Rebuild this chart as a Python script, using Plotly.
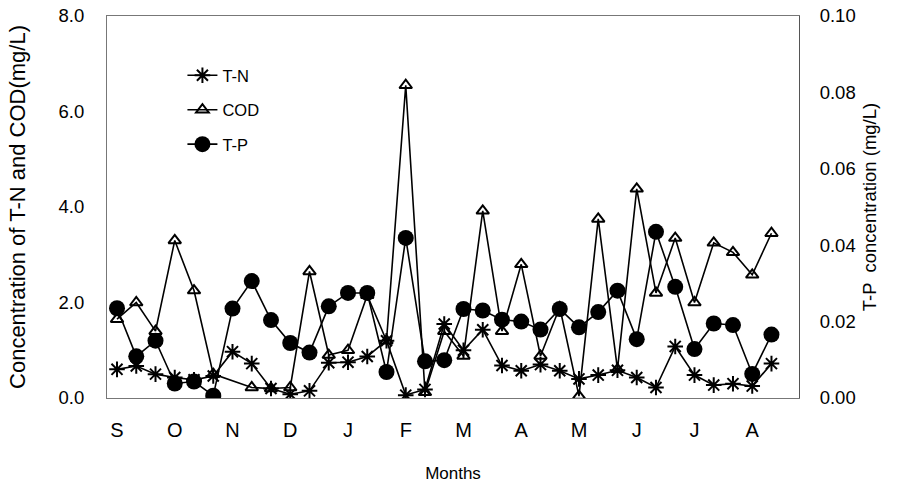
import plotly.graph_objects as go

months = ["S", "O", "N", "D", "J", "F", "M", "A", "M", "J", "J", "A"]
samples = list(range(35))

tn = [0.6, 0.67, 0.5, 0.43, 0.38, 0.46, 0.97, 0.72, 0.2, 0.08,
      0.15, 0.74, 0.75, 0.87, 1.2, 0.06, 0.18, 1.55, 1.0, 1.43,
      0.68, 0.57, 0.7, 0.57, 0.4, 0.48, 0.58, 0.43, 0.22, 1.08,
      0.48, 0.27, 0.3, 0.25, 0.72]

cod = [1.65, 2.0, 1.4, 3.3, 2.25, 0.5, None, 0.22, 0.2, 0.22,
       2.65, 0.9, 1.0, 2.15, 1.2, 6.55, 0.12, 1.4, 0.88, 3.92,
       1.4, 2.8, 0.88, 1.9, 0.04, 3.75, 0.6, 4.38, 2.2, 3.35,
       2.0, 3.25, 3.05, 2.58, 3.45]

tp = [0.0235, 0.0109, 0.015, 0.0038, 0.0043, 0.0006, 0.0234, 0.0306, 0.0204, 0.0144,
      0.0119, 0.024, 0.0275, 0.0275, 0.0068, 0.0419, 0.0096, 0.0099, 0.0233, 0.0229,
      0.0205, 0.02, 0.0179, 0.0233, 0.0185, 0.0225, 0.0281, 0.0154, 0.0435, 0.0291,
      0.0128, 0.0195, 0.0191, 0.0063, 0.0166]

month_pos = [i * 3 for i in range(len(months))]

FONT = "Liberation Sans, Arial, sans-serif"
TICK = dict(family=FONT, size=18.5, color="black")

fig = go.Figure()
fig.add_trace(go.Scatter(
    x=samples, y=tn, name="T-N", mode="lines+markers", legendgroup="a",
    line=dict(color="black", width=1.6),
    marker=dict(symbol="asterisk-open", size=13, color="black",
                line=dict(color="black", width=2)),
))
fig.add_trace(go.Scatter(
    x=samples, y=cod, name="COD", mode="lines+markers", legendgroup="b",
    connectgaps=True,
    line=dict(color="black", width=1.6),
    marker=dict(symbol="triangle-up-open", size=11, color="black",
                line=dict(color="black", width=2)),
))
fig.add_trace(go.Scatter(
    x=samples, y=tp, name="T-P", mode="lines+markers", legendgroup="c",
    yaxis="y2",
    line=dict(color="black", width=1.6),
    marker=dict(symbol="circle", size=16, color="black"),
))

fig.update_layout(
    width=897, height=491,
    margin=dict(l=107, r=98, t=16, b=93),
    paper_bgcolor="white", plot_bgcolor="white",
    font=dict(family=FONT, size=16, color="black"),
    showlegend=True,
    legend=dict(
        x=0.109, y=0.89, xanchor="left", yanchor="top",
        bgcolor="rgba(0,0,0,0)", borderwidth=0,
        traceorder="grouped", tracegroupgap=10,
        font=dict(family=FONT, size=16.5, color="black"),
    ),
    xaxis=dict(
        range=[-0.52, 35.43], automargin=False,
        tickmode="array", tickvals=month_pos, ticktext=months,
        showgrid=False, zeroline=False,
        showline=True, linecolor="#777777", linewidth=1, mirror=True,
        ticks="", ticklabelstandoff=14, ticklabeloverflow="allow",
        tickfont=dict(family=FONT, size=20, color="black"),
        title=dict(text="Months", font=dict(family=FONT, size=17, color="black"), standoff=27),
    ),
    yaxis=dict(
        range=[0, 8], dtick=2, tickformat=".1f", automargin=False,
        showgrid=False, zeroline=False,
        showline=True, linecolor="#777777", linewidth=1,
        ticks="", ticklabelstandoff=18, ticklabeloverflow="allow",
        tickfont=TICK,
        title=dict(text="Concentration of T-N and COD(mg/L)",
                   font=dict(family=FONT, size=22, color="black"), standoff=26),
    ),
    yaxis2=dict(
        range=[0, 0.1], dtick=0.02, tickformat=".2f", automargin=False,
        overlaying="y", side="right",
        showgrid=False, zeroline=False,
        showline=True, linecolor="#555555", linewidth=1,
        ticks="", ticklabelstandoff=16, ticklabeloverflow="allow",
        tickfont=TICK,
        title=dict(text="T-P  concentration (mg/L)",
                   font=dict(family=FONT, size=18.5, color="black"), standoff=8),
    ),
)

fig.write_html("out.html", config={"displayModeBar": False},
               post_script="document.body.style.margin='0';")
